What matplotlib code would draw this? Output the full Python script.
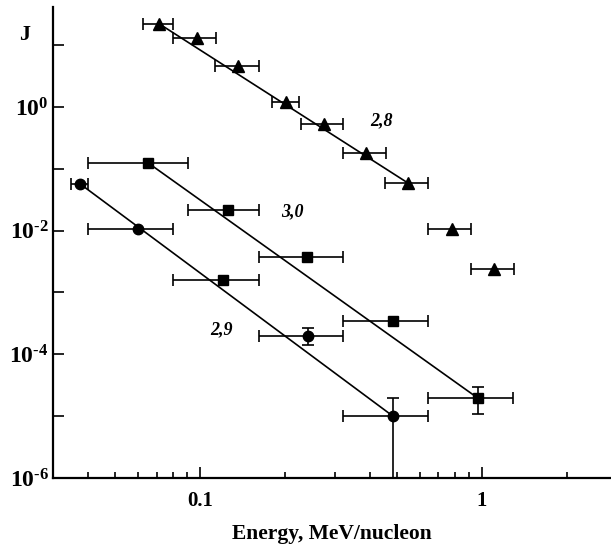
import numpy as np
import matplotlib
matplotlib.use("Agg")
import matplotlib.pyplot as plt

plt.rcParams["font.family"] = ["Liberation Serif", "DejaVu Serif"]
plt.rcParams["font.weight"] = "bold"
plt.rcParams["mathtext.fontset"] = "custom"
plt.rcParams["mathtext.rm"] = "Liberation Serif:bold"
plt.rcParams["mathtext.it"] = "Liberation Serif:bold:italic"
plt.rcParams["mathtext.bf"] = "Liberation Serif:bold"

# spectrum with index 2,8 (triangles)
tri_E = [0.0716, 0.0976, 0.136, 0.202, 0.275, 0.388, 0.547, 0.783, 1.10]
tri_lo = [0.0628, 0.0802, 0.113, 0.179, 0.228, 0.321, 0.453, 0.644, 0.914]
tri_hi = [0.0802, 0.114, 0.161, 0.224, 0.321, 0.457, 0.644, 0.914, 1.30]
tri_J = [22.0, 13.1, 4.6, 1.21, 0.53, 0.18, 0.0586, 0.0105, 0.00237]
tri_fit = (0, 6)

# spectrum with index 3,0 (squares)
sq_E = [0.0654, 0.1257, 0.239, 0.483, 0.968]
sq_lo = [0.0401, 0.0906, 0.161, 0.321, 0.643]
sq_hi = [0.0906, 0.161, 0.321, 0.643, 1.289]
sq_J = [0.124, 0.0215, 0.00374, 3.44e-4, 1.95e-5]
sq_Jlo = [None, None, None, None, 1.08e-5]
sq_Jhi = [None, None, None, None, 2.95e-5]
sq_fit = (0, 4)

# spectrum with index 2,9 (circles)
ci_E = [0.0375, 0.0603, 0.1207, 0.2416, 0.483]
ci_lo = [0.0349, 0.0401, 0.0802, 0.161, 0.321]
ci_hi = [0.0401, 0.0802, 0.161, 0.321, 0.643]
ci_J = [0.0568, 0.0106, 1.59e-3, 1.97e-4, 1.0e-5]
ci_Jlo = [None, None, None, 1.41e-4, 1.0e-7]
ci_Jhi = [None, None, None, 2.65e-4, 1.95e-5]
ci_marker = ["o", "o", "s", "o", "o"]
ci_fit = (0, 4)

labels = ["2,8", "3,0", "2,9"]
label_pos = [(0.439, 0.59), (0.212, 0.020), (0.1187, 2.47e-4)]


def draw_series(ax, E, lo, hi, J, markers, ms, Jlo=None, Jhi=None, fit=None):
    E = np.array(E)
    J = np.array(J)
    xerr = np.array([E - np.array(lo), np.array(hi) - E])
    ax.errorbar(E, J, xerr=xerr, fmt="none", ecolor="black",
                elinewidth=1.2, capsize=4, capthick=1.2, zorder=2)
    if Jlo is not None:
        for i in range(len(E)):
            if Jlo[i] is None:
                continue
            ax.errorbar([E[i]], [J[i]], yerr=[[J[i] - Jlo[i]], [Jhi[i] - J[i]]],
                        fmt="none", ecolor="black", elinewidth=1.2,
                        capsize=4, capthick=1.2, zorder=2)
    for i in range(len(E)):
        ax.plot(E[i], J[i], marker=markers[i], ms=ms[markers[i]],
                color="black", ls="none", zorder=3)
    if fit is not None:
        a, b = fit
        ax.plot([E[a], E[b]], [J[a], J[b]], color="black", lw=1.2, zorder=2)


fig = plt.figure(figsize=(6.11, 5.44), dpi=100)
ax = fig.add_axes([0.0867, 0.1213, 0.9133, 0.866])
ax.set_xscale("log")
ax.set_yscale("log")

sizes = {"^": 8.5, "s": 6.5, "o": 7.5}
draw_series(ax, tri_E, tri_lo, tri_hi, tri_J, ["^"] * len(tri_E), sizes, fit=tri_fit)
draw_series(ax, sq_E, sq_lo, sq_hi, sq_J, ["s"] * len(sq_E), sizes,
            Jlo=sq_Jlo, Jhi=sq_Jhi, fit=sq_fit)
draw_series(ax, ci_E, ci_lo, ci_hi, ci_J, ci_marker, sizes,
            Jlo=ci_Jlo, Jhi=ci_Jhi, fit=ci_fit)

for text, (x, y) in zip(labels, label_pos):
    ax.text(x, y, text, fontsize=13, fontweight="bold", fontstyle="italic",
            ha="center", va="center")

ax.set_xlim(0.03, 2.87)
ax.set_ylim(1e-6, 41.5)

ax.set_xticks([0.1, 1])
ax.set_xticklabels(["0.1", "1"])
ax.set_xticks([0.04, 0.05, 0.06, 0.07, 0.08, 0.09,
               0.2, 0.3, 0.4, 0.5, 0.6, 0.7, 0.8, 0.9, 2], minor=True)
ax.set_xticklabels([], minor=True)
ax.set_yticks([1e-6, 1e-4, 1e-2, 1])
ax.set_yticklabels([r"$10^{\text{-}6}$", r"$10^{\text{-}4}$",
                    r"$10^{\text{-}2}$", r"$10^{0}$"])
ax.set_yticks([1e-5, 1e-3, 1e-1, 10], minor=True)
ax.set_yticklabels([], minor=True)

ax.tick_params(axis="both", which="both", direction="in", width=1.2)
ax.tick_params(axis="x", which="major", length=8, labelsize=15, pad=9)
ax.tick_params(axis="x", which="minor", length=4)
ax.tick_params(axis="y", which="both", length=8, labelsize=17, pad=3)

for side in ["top", "right"]:
    ax.spines[side].set_visible(False)
for side in ["left", "bottom"]:
    ax.spines[side].set_linewidth(1.6)

ax.set_xlabel("Energy, MeV/nucleon", fontsize=15.5, fontweight="bold", labelpad=10)
fig.text(0.041, 0.936, "J", fontsize=16, fontweight="bold", ha="center", va="center")

fig.savefig("out.png", dpi=100)
